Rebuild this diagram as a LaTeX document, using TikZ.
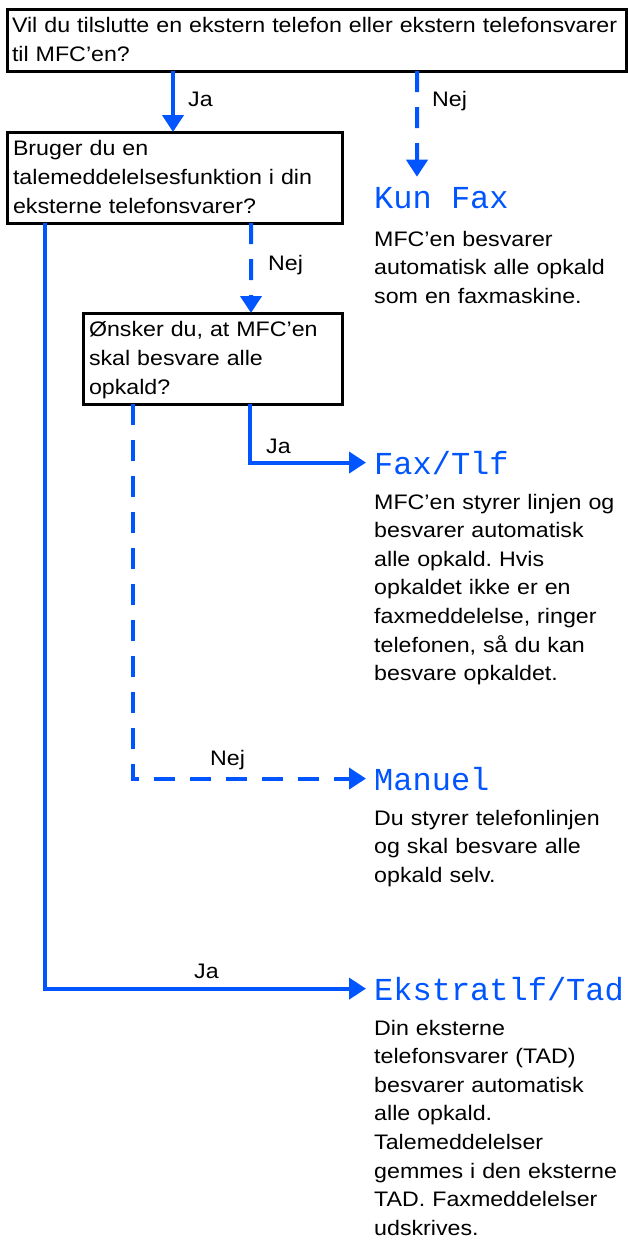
\documentclass[tikz,border=0pt]{standalone}
\usepackage{fontspec}
\setmainfont{Liberation Sans}[FakeStretch=1.105]
\newfontfamily\lcdfont{Liberation Mono}
\usepackage{tikz}
\usetikzlibrary{arrows.meta,positioning,calc}
\definecolor{mfcblue}{RGB}{0,85,255}
\frenchspacing

\begin{document}
\begin{tikzpicture}[
    x=1bp, y=-1bp,
    qbox/.style={draw, line width=3bp, outer sep=0pt, anchor=north west, align=left, inner xsep=6bp, inner ysep=0pt, text height=23.5bp, font=\fontsize{21bp}{28.8bp}\selectfont},
    yesarr/.style={draw=mfcblue, line width=4bp, -{Triangle[length=17bp,width=21bp]}},
    noarr/.style={yesarr, dash pattern=on 21bp off 15bp},
    lbl/.style={anchor=base west, inner sep=0pt, font=\fontsize{21bp}{28.8bp}\selectfont},
    lcd/.style={anchor=base west, inner xsep=8bp, inner ysep=0pt, text=mfcblue, font=\lcdfont\fontsize{32bp}{32bp}\selectfont},
    desc/.style={anchor=base west, align=left, text width=252bp, inner sep=0pt, font=\fontsize{21bp}{28.6bp}\selectfont}
]
\useasboundingbox (0,0) rectangle (628,1241);

% questions
\node[qbox, inner xsep=5bp, text width=609bp, text depth=38.5bp] (q1) at (7,9) {\mbox{Vil du tilslutte en ekstern telefon eller ekstern telefonsvarer}\\til MFC’en?};
\node[qbox, text width=323bp, text depth=67.5bp] (q2) at (7,132) {Bruger du en\\talemeddelelsesfunktion i din\\eksterne telefonsvarer?};
\node[qbox, text width=247bp, text depth=67.5bp] (q3) at (83,313) {Ønsker du, at MFC’en\\skal besvare alle\\opkald?};

% modes
\node[lcd] (kunfax) at (366,208) {Kun Fax};
\node[lcd] (faxtlf) at (366,474) {Fax/Tlf};
\node[lcd] (manuel) at (366,790) {Manuel};
\node[lcd] (ekstra) at (366,1000) {Ekstratlf/Tad};

\node[desc] (kunfaxtxt) at (374,246) {MFC’en besvarer\\automatisk alle opkald\\som en faxmaskine.};
\node[desc] (faxtlftxt) at (374,509) {MFC’en styrer linjen og\\besvarer automatisk\\alle opkald. Hvis\\opkaldet ikke er en\\faxmeddelelse, ringer\\telefonen, så du kan\\besvare opkaldet.};
\node[desc] (manueltxt) at (374,825) {Du styrer telefonlinjen\\og skal besvare alle\\opkald selv.};
\node[desc] (ekstratxt) at (374,1035) {Din eksterne\\telefonsvarer (TAD)\\besvarer automatisk\\alle opkald.\\Talemeddelelser\\gemmes i den eksterne\\TAD. Faxmeddelelser\\udskrives.};

% answers
\node[lbl] (ja1) at (188,106) {Ja};
\node[lbl] (nej1) at (432,106) {Nej};
\node[lbl] (nej2) at (268,270) {Nej};
\node[lbl] (ja3) at (266,453) {Ja};
\node[lbl] (nej3) at (210,765) {Nej};
\node[lbl] (ja2) at (194,978) {Ja};

\draw[yesarr] ([xshift=166bp]q1.south west) -- ([xshift=166bp]q2.north west);
\draw[noarr] ([xshift=410bp]q1.south west) -- ([xshift=51bp,yshift=10bp]kunfax.north west);
\draw[noarr] ([xshift=244bp]q2.south west) -- ([xshift=168bp]q3.north west);
\draw[yesarr] ([xshift=167bp]q3.south west) |- (faxtlf.west);
\draw[noarr] ([xshift=50bp]q3.south west) |- (manuel.west);
\draw[yesarr] ([xshift=38bp]q2.south west) |- (ekstra.west);
\end{tikzpicture}
\end{document}
